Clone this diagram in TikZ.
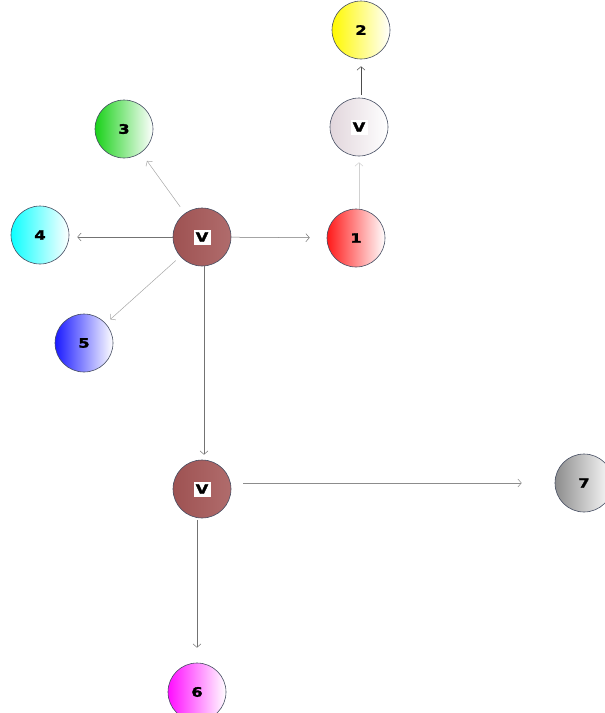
\documentclass[tikz,border=0pt]{standalone}
\usepackage{fontspec}
\usetikzlibrary{arrows.meta}
\newfontfamily\lab{DejaVu Sans}[FakeStretch=1.25,FakeBold=2]
\definecolor{rim}{RGB}{70,78,98}
\definecolor{rosy}{RGB}{158,82,82}
\definecolor{rosylight}{RGB}{176,108,108}
\definecolor{pale}{RGB}{226,214,220}
\begin{document}
\begin{tikzpicture}[x=1pt,y=-1pt,
  lbl/.style={font=\lab\bfseries\fontsize{13}{13}\selectfont},
  ball/.style={circle,minimum size=58pt,inner sep=0pt,draw=rim,line width=0.6pt,
    shading=axis,shading angle=90,lbl},
  vtag/.style={label={[fill=white,inner sep=1pt,minimum width=17pt,minimum height=15pt,lbl]center:V}},
  link/.style={draw=black!55,line width=0.5pt,-{Straight Barb[length=3.5pt,width=8pt]}},
  faint/.style={link,draw=black!25}]
\useasboundingbox (0,0) rectangle (605,713);
% numbered targets
\node[ball,left color=red!90!white,right color=white] (n1) at (356,238) {1};
\node[ball,left color=yellow!95!orange,right color=white] (n2) at (361,30) {2};
\node[ball,left color=green!80!black!90,right color=white] (n3) at (124,129) {3};
\node[ball,left color=cyan!95!white,right color=white] (n4) at (40,235) {4};
\node[ball,left color=blue!90!white,right color=white] (n5) at (84,343) {5};
\node[ball,left color=magenta!95!white,right color=white] (n6) at (197,692) {6};
\node[ball,left color=black!45,right color=white] (n7) at (584,483) {7};
% V nodes
\node[ball,vtag,left color=rosy,right color=rosylight] (v1) at (202,237) {};
\node[ball,vtag,left color=pale,right color=white] (v2) at (359,127) {};
\node[ball,vtag,left color=rosy,right color=rosylight] (v3) at (202,489) {};
% connectors
\draw[link,shorten >=17pt] (v1) -- (n1);
\draw[link,shorten >=8pt] (v1.west) -- (v1.west -| n4.east);
\draw[faint,draw=black!35,shorten <=8pt,shorten >=10pt] (v1) -- (n3);
\draw[faint,draw=black!35,shorten <=6pt,shorten >=6pt] (v1) -- (n5);
\draw[link,shorten >=5pt] (v1.south -| 204,0) -- (v3.north -| 204,0);
\draw[faint,draw=black!18,shorten >=6pt] (n1.north -| v2) -- (v2.south);
\draw[link,draw=black!70,shorten <=3pt,shorten >=7pt] (v2.north -| n2) -- (n2.south);
\draw[link,draw=black!45,shorten <=12pt,shorten >=33pt] (v3.east |- n7) -- (n7.west);
\draw[link,shorten <=2pt,shorten >=15pt] (v3.south -| n6) -- (n6.north);
\end{tikzpicture}
\end{document}
